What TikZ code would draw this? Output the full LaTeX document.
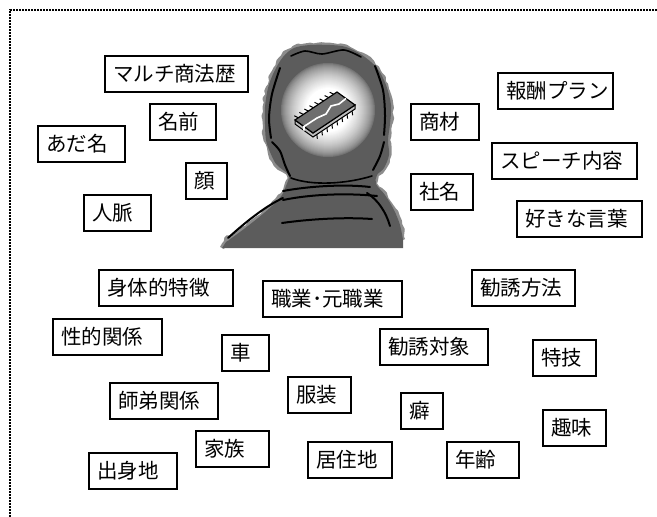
\documentclass[tikz,border=0pt]{standalone}
\usepackage{fontspec}
\newfontfamily\jpfont{Noto Sans CJK JP}
\usetikzlibrary{calc, decorations.pathmorphing}
\definecolor{colHead}    {RGB}{92,92,92}
\definecolor{colRim}     {RGB}{140,140,140}
\definecolor{colChip}    {RGB}{110,110,110}
\definecolor{colChipSide}{RGB}{190,190,190}
\tikzset{
  tag/.style   = {draw, line width=2.3pt, font=\jpfont\fontsize{20.5}{23}\selectfont,
                  inner xsep=8pt, inner ysep=2pt, minimum height=36pt,
                  align=left, anchor=north west, outer sep=0pt},
  frame/.style = {line width=1.8pt, dash pattern=on 2pt off 1pt},
  ink/.style   = {line width=2pt, line cap=round, line join=round},
  rough/.style = {decorate, decoration={random steps, segment length=4pt, amplitude=1.3pt}},
}

\begin{document}
\begin{tikzpicture}[x=1pt, y=-1pt]
\useasboundingbox (0,0) rectangle (657,517);
\pgfmathsetseed{7}

%% ── frame (top and left only) ───────────────────────────────────────────────
\draw[frame] (10,517) -- (10,10) -- (657,10);

%% ── head seen from behind ───────────────────────────────────────────────────
\def\headline{(226,242) (240,232) (258,218) (272,206) (282,195) (286,186)
    (289,176) (283,170) (276,164) (270,152) (266,140) (265,124)
    (265,107) (268,88) (274,72) (283,57) (294,48) (310,45) (330,45)
    (346,47) (362,55) (377,68) (386,85) (391,105) (390,124)
    (388,140) (389,155) (384,168) (377,175) (376,184) (385,195)
    (394,210) (400,225) (403,240)}
\draw[rough, colRim, line width=4.5pt, line join=round]
  (222,248) -- plot[smooth, tension=0.55] coordinates {\headline};
\fill[colHead]
  (222,248) -- plot[smooth, tension=0.55] coordinates {\headline}
  -- (403,248) -- cycle;

% glow behind the chip
\foreach \i in {0,...,26} {
  \pgfmathsetmacro\rad{48-\i}
  \pgfmathsetmacro\pct{100*(\i/26)^0.6}
  \fill[white!\pct!colHead] (328,110) circle (\rad);
}

% hair, ears and neck
\draw[ink] plot[smooth] coordinates {(280,68) (272,94) (269,118) (271,138)};
\draw[ink] plot[smooth] coordinates {(375,66) (383,90) (385,115) (384,135)};
\draw[ink, line width=1.6pt] plot[smooth] coordinates {(291,56) (305,51) (322,54) (344,50) (361,57)};
\draw[ink] plot[smooth] coordinates {(272,142) (280,151) (285,165) (290,176)};
\draw[ink] plot[smooth] coordinates {(384,142) (380,156) (373,170)};
\draw[ink, line width=1.6pt] (291,178) .. controls (312,186) and (346,184) .. (372,176);

% collar and shoulders
\draw[ink] (283,191) .. controls (310,186) and (345,184) .. (370,187);
\draw[ink] (283,200) .. controls (312,194) and (348,193) .. (377,196);
\draw[ink] (228,238) .. controls (250,218) and (268,205) .. (283,198);
\draw[ink] (282,223) .. controls (310,219) and (345,217) .. (372,219);
\draw[ink] (367,193) .. controls (378,200) and (386,212) .. (390,226);

%% ── chip ────────────────────────────────────────────────────────────────────
\coordinate (chipA) at (295,120);
\coordinate (chipB) at (337,92);
\coordinate (chipC) at (355,105);
\coordinate (chipD) at (313,133);

% pins on both long sides
\foreach \t in {0.08,0.2,...,0.95} {
  \draw[line width=1pt] ($(chipD)!\t!(chipC)$) -- ++(1,8);
  \draw[line width=1pt] ($(chipA)!\t!(chipB)$) -- ++(-4,-2);
}
\draw[line width=1pt, fill=colChipSide]
  (chipA) -- (chipD) -- (chipC) -- ++(0,4) -- ($(chipD)+(0,4)$)
  -- ($(chipA)+(0,4)$) -- cycle;
\draw[line width=1.2pt, fill=colChip]
  (chipA) -- (chipB) -- (chipC) -- (chipD) -- cycle;
% crack across the top face
\draw[white, line width=1.6pt]
  ($(chipB)!0.5!(chipC)$) -- (339,104) -- (331,106) -- (326,114)
  -- (317,118) -- ($(chipA)!0.5!(chipD)$) -- ++(0,4);

%% ── labels left of the head ─────────────────────────────────────────────────
\node[tag, text width=127pt] (mlm)     at (105,56)  {マルチ商法歴};
\node[tag, text width=50pt]  (name)    at (150,104) {名前};
\node[tag, text width=71pt]  (nick)    at (38,126)  {あだ名};
\node[tag, text width=25pt]  (face)    at (186,163) {顔};
\node[tag, text width=51pt]  (network) at (84,195)  {人脈};

%% ── labels right of the head ────────────────────────────────────────────────
\node[tag, text width=99pt]  (reward)  at (498,73)  {報酬プラン};
\node[tag, text width=52pt]  (product) at (411,104) {商材};
\node[tag, text width=129pt] (speech)  at (492,143) {スピーチ内容};
\node[tag, text width=46pt]  (company) at (411,174) {社名};
\node[tag, text width=109pt] (words)   at (517,201) {好きな言葉};

%% ── labels below ────────────────────────────────────────────────────────────
\node[tag, text width=118pt] (body)    at (99,270)  {身体的特徴};
\node[tag, text width=123pt] (job)     at (263,281) {職業･元職業};
\node[tag, text width=87pt]  (method)  at (472,270) {勧誘方法};
\node[tag, text width=93pt]  (sex)     at (53,319)  {性的関係};
\node[tag, text width=31pt]  (car)     at (222,335) {車};
\node[tag, text width=92pt]  (target)  at (380,329) {勧誘対象};
\node[tag, text width=47pt]  (skill)   at (533,340) {特技};
\node[tag, text width=92pt]  (mentor)  at (110,383) {師弟関係};
\node[tag, text width=47pt]  (clothes) at (288,377) {服装};
\node[tag, text width=26pt]  (habit)   at (401,393) {癖};
\node[tag, text width=47pt]  (hobby)   at (543,410) {趣味};
\node[tag, text width=57pt]  (family)  at (196,431) {家族};
\node[tag, text width=68pt]  (home)    at (308,442) {居住地};
\node[tag, text width=56pt]  (age)     at (447,442) {年齢};
\node[tag, text width=72pt]  (birth)   at (89,453)  {出身地};

\end{tikzpicture}
\end{document}
